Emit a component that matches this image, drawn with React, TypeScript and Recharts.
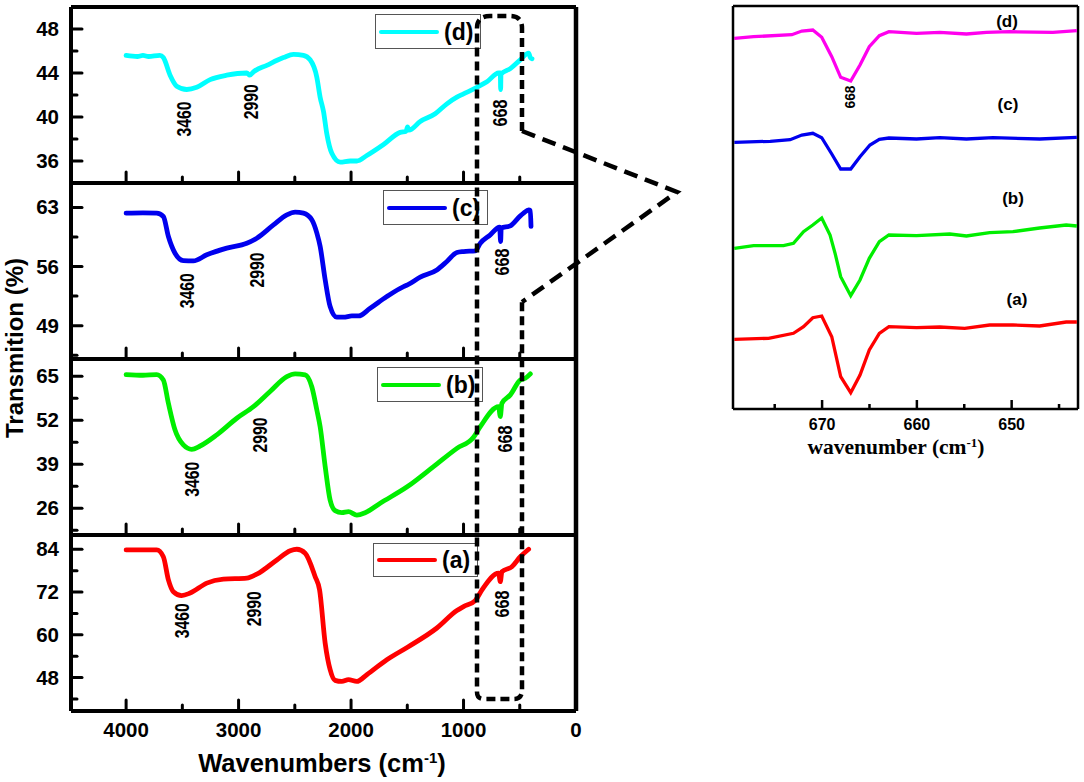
import React from "react";
import { LineChart, Line, XAxis, YAxis, ReferenceLine, Legend } from "recharts";

// ---- main panels: wavenumber / transmittance ----
const dWn = [4000,3900,3850,3800,3700,3669,3609,3550,3461,3372,3253,3105,2927,2900,2868,2749,2601,2512,2423,2364,2304,2275,2245,2216,2171,2097,2008,1949,1860,1711,1563,1510,1498,1485,1385,1252,1148,1059,1000,881,792,688,673,670,667,584,495,421,406,391];
const dT = [45.6,45.5,45.6,45.5,45.6,45.4,43.8,42.8,42.5,42.7,43.4,43.8,44,43.8,44.1,44.7,45.4,45.7,45.6,45.2,43.6,41.8,40.5,38.5,36.7,35.9,36,36,36.5,37.5,38.6,38.7,39.1,38.8,39.6,40.3,41.2,41.8,42.1,42.7,43.2,44,44,42.5,43.9,44.4,45.2,45.8,45.4,45.3];

const cWn = [4000,3850,3728,3669,3624,3565,3491,3402,3283,3105,2927,2838,2690,2571,2497,2423,2349,2304,2275,2230,2186,2127,2067,1993,1934,1830,1682,1533,1498,1385,1237,1148,1059,1000,896,851,762,679,670,665,584,495,466,421,406,400];
const cT = [62.33,62.36,62.33,61.93,59.56,57.58,56.71,56.67,57.39,58.18,58.77,59.36,60.94,62.13,62.45,62.33,61.54,59.96,58.4,54.42,51.26,50,50,50.15,50.15,51.06,52.45,53.63,53.83,54.74,55.6,56.6,57.66,57.78,57.86,58.77,59.76,60.67,58.97,60.55,60.83,62.01,62.33,62.72,62.64,60.75];

const bWn = [4000,3850,3728,3669,3624,3565,3491,3417,3342,3194,3016,2868,2720,2571,2497,2408,2349,2304,2275,2230,2186,2142,2082,2023,1949,1875,1741,1498,1267,1059,911,851,688,673,659,584,495,451,406];
const bT = [65.5,65.3,65.5,63.9,57,49.1,44.7,43.4,44.4,47.7,52.6,56,60.5,64.9,65.7,65.4,61.9,55,50.1,38.3,28.4,25.3,24.7,25,24,24.7,27.5,32.4,38.3,43.7,47,50.1,56,53.1,57,59.5,63.9,64.4,65.7];

const aWn = [4000,3728,3669,3624,3580,3506,3431,3283,3135,2927,2838,2660,2541,2482,2408,2319,2280,2230,2186,2142,2082,2023,1949,1860,1682,1498,1237,1059,1000,896,836,688,673,659,570,495,421];
const aT = [83.8,83.8,81.9,75.4,72.1,71,71.7,74.5,75.6,75.9,77,81,83.6,84,82.9,76.3,72.6,57.6,50.2,47.2,46.9,47.4,46.9,48.8,53,56.5,61.9,66.8,67.9,69.6,72.6,77.3,74.9,77.7,79.1,81.9,84];

const xTicks = [4000,3500,3000,2500,2000,1500,1000,500,0];
const dMajor = [48,44,40,36];
const dMinor = [46,42,38];
const cMajor = [63,56,49];
const cMinor = [59.5,52.5,45.5];
const bMajor = [65,52,39,26];
const bMinor = [58.5,45.5,32.5,19.5];
const aMajor = [84,72,60,48];
const aMinor = [78,66,54,42];

// ---- inset: wavenumber / relative intensity ----
const mInsetWn = [679.26,677.23,673.19,672.14,670.98,670.04,668.98,668.04,666.98,666,665.02,663.96,662.95,660.04,657.58,654.77,652.67,650.21,645.65,643.12];
const mInset = [370.7,372.3,374.3,378,379,371.7,352.3,331.7,328,344,362.3,373.3,377.3,375.7,376.7,375,376.7,377.3,376.7,378.3];
const bInsetWn = [679.26,675.47,673.37,672.14,670.98,670.04,668.98,668.04,666.98,666,664.95,663.96,662.95,660.04,657.58,654.77,651.96,647.05,643.12];
const bInset = [266.7,267.7,269.3,274,275.7,271.3,255,240,240,252.3,264,269.7,271,270,271.3,270,271.3,270,271.7];
const gInsetWn = [679.26,677.23,674.07,673.02,671.96,670.98,670.04,669.16,668.63,668.04,666.98,666,665.02,663.96,662.95,660.04,656.53,654.77,652.32,649.86,647.05,644.25,643.12];
const gInset = [160.7,163.3,163.3,165.7,177.3,184,191,174,155.7,132.3,113.3,129,150.7,167.3,174,173.3,175,173,176.3,177.3,181,184,183];
const rInsetWn = [679.26,675.65,673.02,671.96,670.98,670.04,668.98,668.04,666.98,666,665.02,663.96,662.95,660.04,657.58,654.95,652.32,649.86,647.05,644.25,643.12];
const rInset = [69.7,70.7,75.7,82.3,91.3,93,72.3,32.3,16.3,34,59,75.7,82.3,81.3,82,80.7,84,84,83,87,87];
const insetTicks = [675,670,665,660,655,650,645];

const rows = (xs: number[], ys: number[]) => xs.map((wn, i) => ({ wn, v: ys[i] }));

const SANS = '"Liberation Sans", Arial, sans-serif';
const SERIF = '"Liberation Serif", "Times New Roman", serif';

const YTick = (props: any) => {
  const { x, y, payload, major } = props;
  const isMajor = major.includes(payload.value);
  return (
    <g>
      <line x1={x} x2={x + (isMajor ? 11 : 6)} y1={y} y2={y} stroke="#000" strokeWidth={3} strokeLinecap="round" />
      {isMajor && (
        <text x={x - 12} y={y + 7} textAnchor="end" fontFamily={SANS} fontWeight="bold" fontSize={20.5} fill="#000">
          {payload.value}
        </text>
      )}
    </g>
  );
};

const XTick = (props: any) => {
  const { x, y, payload, showLabel } = props;
  const isMajor = payload.value % 1000 === 0;
  return (
    <g>
      {payload.value !== 0 && (
        <line x1={x} x2={x} y1={y} y2={y - (isMajor ? 11 : 6)} stroke="#000" strokeWidth={3} strokeLinecap="round" />
      )}
      {showLabel && isMajor && (
        <text x={x} y={y + 26} textAnchor="middle" fontFamily={SANS} fontWeight="bold" fontSize={20.5} fill="#000">
          {payload.value}
        </text>
      )}
    </g>
  );
};

const LegendBox = ({ label, color, w, h, lineW }: any) => (
  <div style={{ position: "relative", width: w, height: h, boxSizing: "border-box", border: "1px solid #555", background: "#fff" }}>
    <div style={{ position: "absolute", left: 3, top: h / 2 - 3, width: lineW, height: 4, borderRadius: 2, background: color }} />
    <div style={{ position: "absolute", left: lineW + 8, top: h / 2 - 15, fontFamily: SANS, fontWeight: "bold", fontSize: 23, lineHeight: "28px", color: "#000" }}>
      {label}
    </div>
  </div>
);

const Panel = ({ top, bottom, domain, major, minor, wn, values, color, name, legend, last }: any) => {
  const pad = 6;
  const footer = last ? 70 : pad;
  return (
    <div style={{ position: "absolute", left: 0, top: top - pad }}>
      <LineChart
        width={600}
        height={bottom - top + pad + footer}
        data={rows(wn, values)}
        margin={{ top: pad, right: 24, bottom: 0, left: 0 }}
      >
        <XAxis
          type="number"
          dataKey="wn"
          domain={[0, 4490]}
          reversed
          ticks={xTicks}
          interval={0}
          height={footer}
          axisLine={{ stroke: "#000", strokeWidth: 4 }}
          tickLine={false}
          tickSize={0}
          tickMargin={0}
          tick={<XTick showLabel={!!last} />}
        />
        <YAxis
          type="number"
          domain={domain}
          ticks={[...major, ...minor]}
          interval={0}
          width={71}
          axisLine={{ stroke: "#000", strokeWidth: 4 }}
          tickLine={false}
          tickSize={0}
          tickMargin={0}
          tick={<YTick major={major} />}
        />
        <ReferenceLine x={0} stroke="#000" strokeWidth={4.5} />
        <ReferenceLine y={domain[1]} stroke="#000" strokeWidth={4} />
        <Legend
          layout="horizontal"
          verticalAlign="middle"
          align="center"
          wrapperStyle={{ left: legend.left, top: legend.top + pad, width: legend.w, height: legend.h, margin: 0 }}
          content={() => <LegendBox label={name} color={color} w={legend.w} h={legend.h} lineW={legend.lineW} />}
        />
        <Line
          type="monotone"
          dataKey="v"
          name={name}
          stroke={color}
          strokeWidth={4.8}
          strokeLinecap="round"
          strokeLinejoin="round"
          dot={false}
          isAnimationActive={false}
        />
      </LineChart>
    </div>
  );
};

const InsetTick = (props: any) => {
  const { x, y, payload } = props;
  const isMajor = payload.value % 10 === 0;
  return (
    <g>
      <line x1={x} x2={x} y1={y} y2={y - (isMajor ? 9 : 5)} stroke="#000" strokeWidth={2.5} />
      {isMajor && (
        <text x={x} y={y + 21} textAnchor="middle" fontFamily={SANS} fontWeight="bold" fontSize={16} fill="#000">
          {payload.value}
        </text>
      )}
    </g>
  );
};

const Inset = () => (
  <div style={{ position: "absolute", left: 700, top: 0 }}>
    <LineChart width={384} height={480} margin={{ top: 6, right: 6, bottom: 0, left: 0 }}>
      <XAxis
        type="number"
        dataKey="wn"
        domain={[643, 679.4]}
        reversed
        ticks={insetTicks}
        interval={0}
        height={71}
        axisLine={{ stroke: "#000", strokeWidth: 2.5 }}
        tickLine={false}
        tickSize={0}
        tickMargin={0}
        tick={<InsetTick />}
      />
      <YAxis
        type="number"
        domain={[0, 403]}
        width={33}
        tick={false}
        tickLine={false}
        axisLine={{ stroke: "#000", strokeWidth: 2.5 }}
      />
      <ReferenceLine y={403} stroke="#000" strokeWidth={2.5} />
      <ReferenceLine x={643} stroke="#000" strokeWidth={2.5} />
      <Line data={rows(rInsetWn, rInset)} dataKey="v" name="(a)" stroke="#ff0000" strokeWidth={3.3} dot={false} isAnimationActive={false} />
      <Line data={rows(gInsetWn, gInset)} dataKey="v" name="(b)" stroke="#00ee00" strokeWidth={3.3} dot={false} isAnimationActive={false} />
      <Line data={rows(bInsetWn, bInset)} dataKey="v" name="(c)" stroke="#0000ee" strokeWidth={3.3} dot={false} isAnimationActive={false} />
      <Line data={rows(mInsetWn, mInset)} dataKey="v" name="(d)" stroke="#ff00ee" strokeWidth={3.3} dot={false} isAnimationActive={false} />
    </LineChart>
  </div>
);

const Peak = ({ cx, cy, children, len = 35 }: any) => (
  <text
    transform={`translate(${cx} ${cy}) rotate(-90)`}
    x={0}
    y={7}
    textAnchor="middle"
    fontFamily={SANS}
    fontWeight="bold"
    fontSize={20}
    textLength={len}
    lengthAdjust="spacingAndGlyphs"
    fill="#000"
  >
    {children}
  </text>
);

const InsetLabel = ({ x, y, children }: any) => (
  <text x={x} y={y} textAnchor="middle" fontFamily={SANS} fontWeight="bold" fontSize={17} fill="#000">
    {children}
  </text>
);

export default function App() {
  return (
    <div style={{ position: "absolute", left: 0, top: 0, width: 1084, height: 782, background: "#fff", overflow: "hidden" }}>
      <Panel top={7} bottom={183} domain={[34, 50]} major={dMajor} minor={dMinor} wn={dWn} values={dT} color="#00ffff" name="(d)" legend={{ left: 375, top: 7, w: 106, h: 35, lineW: 60 }} />
      <Panel top={183} bottom={359} domain={[45.05, 65.9]} major={cMajor} minor={cMinor} wn={cWn} values={cT} color="#0000ee" name="(c)" legend={{ left: 383, top: 7, w: 105, h: 35, lineW: 60 }} />
      <Panel top={359} bottom={535} domain={[18.1, 70.1]} major={bMajor} minor={bMinor} wn={bWn} values={bT} color="#00ee00" name="(b)" legend={{ left: 377, top: 8, w: 106, h: 35, lineW: 60 }} />
      <Panel top={535} bottom={711} domain={[38.6, 88]} major={aMajor} minor={aMinor} wn={aWn} values={aT} color="#ff0000" name="(a)" legend={{ left: 373, top: 8, w: 105, h: 34, lineW: 60 }} last />
      <Inset />
      <svg width={1084} height={782} style={{ position: "absolute", left: 0, top: 0, pointerEvents: "none" }}>
        <path
          d="M522 131 L522 28 Q522 16 510 16 L490 16 Q477 16 477 28 L477 692 Q477 699 484 699 L514 699 Q522 699 522 690 L522 302"
          fill="none"
          stroke="#000"
          strokeWidth={4.5}
          strokeDasharray="9 5"
        />
        <path d="M522 131 L677 192 L522 302" fill="none" stroke="#000" strokeWidth={4.5} strokeDasharray="14 8" />
        <text transform="translate(23 348) rotate(-90)" textAnchor="middle" fontFamily={SANS} fontWeight="bold" fontSize={24} fill="#000">
          Transmition (%)
        </text>
        <text x={322} y={772} textAnchor="middle" fontFamily={SANS} fontWeight="bold" fontSize={25.5} fill="#000">
          Wavenumbers (cm<tspan dy={-9} fontSize={15}>-1</tspan><tspan dy={9}>)</tspan>
        </text>
        <text x={896} y={454} textAnchor="middle" fontFamily={SERIF} fontWeight="bold" fontSize={21.5} fill="#000">
          wavenumber (cm<tspan dy={-7} fontSize={13}>-1</tspan><tspan dy={7}>)</tspan>
        </text>
        <Peak cx={184} cy={119}>3460</Peak>
        <Peak cx={250.7} cy={101.7}>2990</Peak>
        <Peak cx={500} cy={113} len={27}>668</Peak>
        <Peak cx={187.3} cy={290.7}>3460</Peak>
        <Peak cx={256.7} cy={270}>2990</Peak>
        <Peak cx={501.7} cy={262} len={27}>668</Peak>
        <Peak cx={191.7} cy={479.3}>3460</Peak>
        <Peak cx={260} cy={435}>2990</Peak>
        <Peak cx={505} cy={439} len={27}>668</Peak>
        <Peak cx={181.7} cy={620.7}>3460</Peak>
        <Peak cx={254} cy={608.7}>2990</Peak>
        <Peak cx={501.7} cy={604} len={27}>668</Peak>
        <InsetLabel x={1007} y={27}>(d)</InsetLabel>
        <InsetLabel x={1008} y={110}>(c)</InsetLabel>
        <InsetLabel x={1013} y={204}>(b)</InsetLabel>
        <InsetLabel x={1017} y={305}>(a)</InsetLabel>
        <text transform="translate(850 97) rotate(-90)" x={0} y={5} textAnchor="middle" fontFamily={SANS} fontWeight="bold" fontSize={14} textLength={23} lengthAdjust="spacingAndGlyphs" fill="#000">
          668
        </text>
      </svg>
    </div>
  );
}
